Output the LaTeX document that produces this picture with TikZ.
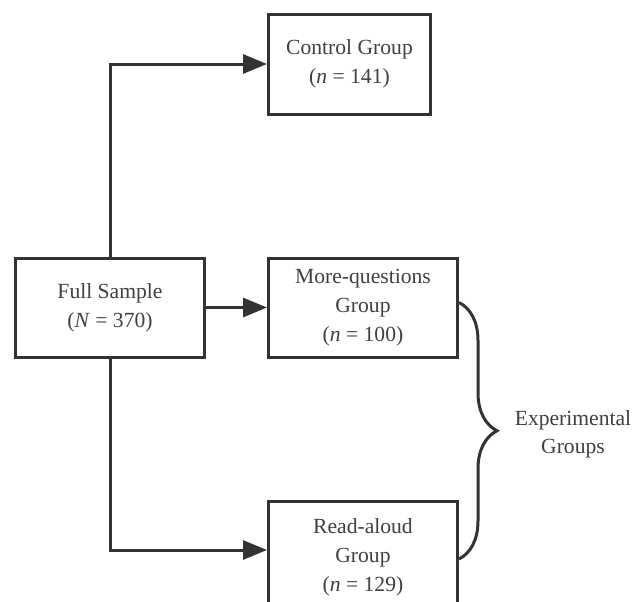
\documentclass[tikz,border=0pt]{standalone}
\usepackage{fontspec}
\setmainfont{Liberation Serif}
\usetikzlibrary{arrows.meta,decorations.pathreplacing}
\definecolor{linegray}{HTML}{333333}
\definecolor{textgray}{HTML}{404040}
\tikzset{every picture/.style={line width=1.5pt}}
\tikzset{
  grpbox/.style={draw=linegray, rectangle, align=center, text=textgray,
    minimum width=94.5pt, minimum height=49.5pt, inner sep=0pt,
    font=\fontsize{10.8}{14.6}\selectfont},
  grplabel/.style={align=center, text=textgray, font=\fontsize{10.8}{14}\selectfont},
  bracket/.style={draw=linegray, decorate, decoration={brace, amplitude=19pt}},
}

\begin{document}
\begin{tikzpicture}[x=0.5pt, y=-0.5pt, >={Triangle[length=12pt, width=9.5pt]}]
        \useasboundingbox (0,0) rectangle (633,601);
        \clip (0,0) rectangle (633,601);
        \node[grpbox] (full)    at (110, 307.5) {Full Sample\\(\textit{N} = 370)};
        \node[grpbox, minimum width=81pt, minimum height=50pt] (control) at (349.5, 64) {Control Group\\(\textit{n} = 141)};
        \node[grpbox] (moreq)   at (363, 307.5) {More-questions\\Group\\(\textit{n} = 100)};
        \node[grpbox, minimum height=56pt] (readal) at (363, 557) {Read-aloud\\Group\\(\textit{n} = 129)};
        % assignment
        \draw[->, linegray] (full.north) |- (control.west);
        \draw[->, linegray] (full) -- (moreq);
        \draw[->, linegray] (full.south) |- ([yshift=3.5pt]readal.west);
        % experimental groups
        \draw[bracket] ([yshift=2.5pt]moreq.east) -- ([yshift=-1pt]readal.east);
        \node[grplabel] (expl) at (573, 434) {Experimental\\Groups};
    \end{tikzpicture}
\end{document}
